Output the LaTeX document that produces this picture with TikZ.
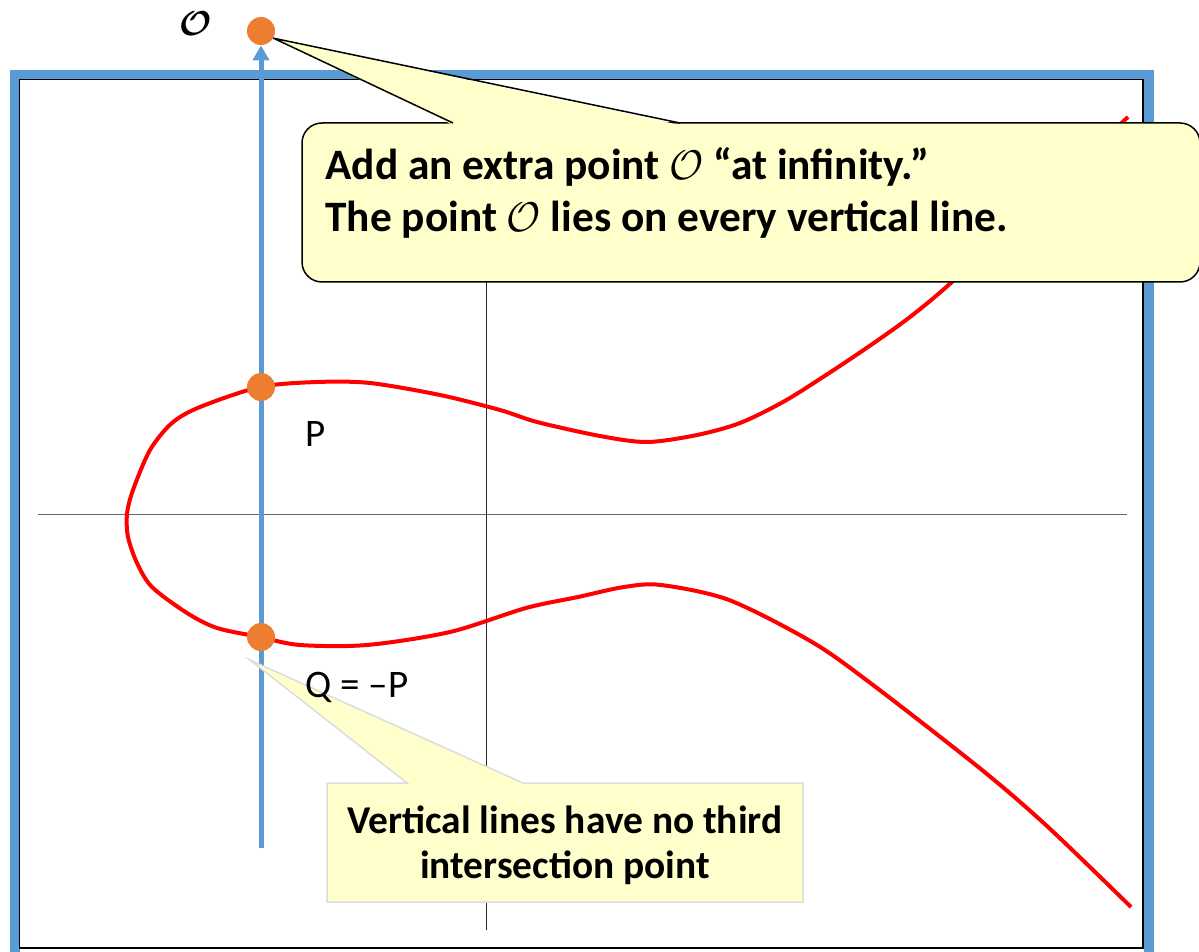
\documentclass[tikz,border=0pt]{standalone}
\usepackage{fontspec}
\setmainfont{Carlito}
\usepackage{bm}
\usepackage{tikz}
\usetikzlibrary{arrows.meta}
\definecolor{frameblue}{HTML}{5B9BD5}
\definecolor{ptorange}{HTML}{ED7D31}
\definecolor{notefill}{HTML}{FFFFCC}
\definecolor{noteedge}{HTML}{DCDCDC}
\newcommand{\infpt}{{\fontsize{22.5}{24}\selectfont$\mathcal{O}$}}

\begin{document}
\begin{tikzpicture}[x=0.5pt,y=-0.5pt,
  dot/.style={circle,fill=ptorange,inner sep=0pt,minimum size=14pt},
  bignote/.style={font=\fontsize{21.7}{24}\selectfont\bfseries,inner sep=0pt,anchor=base west},
  smallnote/.style={font=\fontsize{19.7}{23}\selectfont\bfseries,inner sep=0pt,anchor=base},
  ptlabel/.style={font=\fontsize{19.5}{23}\selectfont,inner sep=0pt,anchor=base west}]
\clip (0,0) rectangle (1199,952);
\draw[frameblue,line width=5pt] (15,75) rectangle (1149,962);
\draw[line width=0.6pt] (19.5,79.5) rectangle (1143,948);
\draw[black!60,line width=0.5pt] (38,514) -- (1127,514);
\draw[black!85,line width=0.5pt] (486,90) -- (486,930);
\draw[red,line width=2pt,line join=round] plot[smooth,tension=0.5] coordinates {
  (1128,117) (1040,199) (953,281) (910,317) (868,347) (823,377) (783,402) (740,423)
  (697,435) (647,442) (600,436) (537,422) (500,410) (440,395) (370,383) (317,382)
  (260,387) (200,407) (172,423) (150,450) (133,490) (127,514) (128,537) (137,563)
  (152,587) (187,613) (217,628) (260,637) (300,645) (367,645) (450,632) (526,608)
  (578,597) (624,587) (661,585) (729,600) (812,642) (873,685) (982,770) (1048,827)
  (1131,907)};
\node[dot] (O) at (261,31) {};
\coordinate (base) at (261,848);
\draw[frameblue,line width=2.5pt,-{Triangle[length=7.5pt,width=8pt]}] (base) -- (O.south);
\foreach \n/\y in {P/387,Q/637} \node[dot] (\n) at (261,\y) {};
\node[font=\fontsize{17.5}{20}\selectfont,inner sep=0pt] (olabel) at (196,24) {$\bm{\mathcal{O}}$};
% lower note
\coordinate (qtip) at (250,660);
\draw[fill=notefill,draw=noteedge,line width=0.75pt] (327,783) -- (407,783) -- (qtip) -- (523,783)
  -- (803,783) -- (803,902) -- (327,902) -- cycle;
\node[smallnote] (vnote1) at (565,833) {Vertical lines have no third};
\node[smallnote] (vnote2) at (565,878) {intersection point};
\node[ptlabel] (plabel) at (305,446) {P};
\node[ptlabel] (qlabel) at (305,697) {Q = –P};
% upper note
\node[draw,fill=notefill,line width=0.75pt,rounded corners=10pt,minimum width=449pt,
  minimum height=79.5pt,inner sep=0pt] (infbox) at (751,202.5) {};
\fill[notefill] (453,125) -- (O.-30) -- (680,125) -- cycle;
\draw[line width=0.75pt,line join=round] (453,123) -- (O.-30) -- (680,123);
\node[bignote] (inf1) at (325,180) {Add an extra point \infpt{} “at infinity.”};
\node[bignote] (inf2) at (325,232) {The point \infpt{} lies on every vertical line.};
\end{tikzpicture}
\end{document}
